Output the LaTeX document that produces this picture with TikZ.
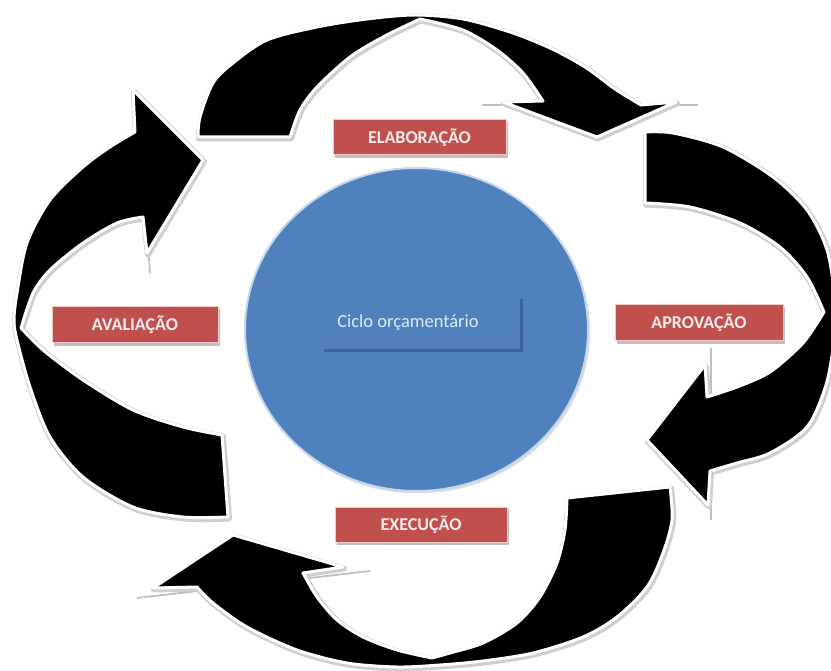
\documentclass[tikz,border=0pt]{standalone}
\usepackage{fontspec}
\newfontfamily\carlito{Carlito}
\definecolor{circblue}{RGB}{79,129,189}
\definecolor{circedge}{RGB}{196,214,236}
\definecolor{boxshade}{RGB}{58,100,160}
\definecolor{labred}{RGB}{192,80,77}
\definecolor{labedge}{RGB}{236,200,198}
\definecolor{labtext}{RGB}{250,236,236}
\definecolor{cictext}{RGB}{220,232,246}
\tikzset{
  shadowst/.style={draw=gray!38, fill=gray!38, line width=6pt, line join=round, shift={(1,1.5)}},
  arrowst/.style={fill=black, draw=white, line width=3pt, line join=round},
  baseline/.style={draw=gray!50, line width=1.8pt},
  labbox/.style={fill=labred, draw=labedge, line width=1pt, text=labtext,
     font=\carlito\bfseries\fontsize{18}{21}\selectfont, inner sep=0pt},
  labshadow/.style={fill=gray!50},
}
\newcommand\shapeTop[1]{\path[#1] (198,137) -- plot[smooth] coordinates {(198,137) (200,117) (213,83) (233,63) (267,40) (317,27) (367,19) (415,15) (463,19) (510,32) (550,48) (585,67) (615,89) (641,105)} -- (676,102) -- (597,137) -- (503,102) -- (543,101) -- plot[smooth] coordinates {(543,101) (523,73) (497,50) (463,30) (420,19)} -- plot[smooth] coordinates {(420,19) (383,37) (350,57) (317,87) (300,110) (290,137)} -- cycle;}
\newcommand\shapeRight[1]{\path[#1] (645,132) -- plot[smooth] coordinates {(645,132) (673,133) (723,147) (773,177) (807,210) (827,250) (835,300) (834,340) (826,385) (807,427) (770,453) (737,463) (710,471)} -- (708,505) -- (647,440) -- (705,365) -- plot[smooth] coordinates {(707,397) (737,387) (770,372) (803,343) (824,312)} -- plot[smooth] coordinates {(824,312) (807,277) (780,247) (740,223) (690,207) (645,203)} -- cycle;}
\newcommand\shapeBottom[1]{\path[#1] (567,498) -- (670,487) -- plot[smooth] coordinates {(670,487) (672,520) (663,553) (647,587) (617,617) (583,637) (533,653) (483,661) (440,665) (397,667) (347,663) (297,650) (247,627) (213,603) (197,587)} -- (153,588) -- (233,535) -- (343,567) -- plot[smooth] coordinates {(303,573) (317,597) (337,620) (363,637) (397,650) (432,658)} -- plot[smooth] coordinates {(432,658) (450,653) (483,643) (517,623) (540,597) (557,563) (565,530) (567,498)} -- cycle;}
\newcommand\shapeLeft[1]{\path[#1] (228,517) -- plot[smooth] coordinates {(228,517) (183,517) (133,507) (83,477) (50,437) (30,387) (17,340) (14,320) (17,293) (27,243) (50,200) (83,167) (110,147) (135,132)} -- (133,90) -- (203,160) -- (147,253) -- plot[smooth] coordinates {(143,217) (117,223) (83,243) (50,270) (33,293) (21,328)} -- plot[smooth] coordinates {(21,328) (43,350) (83,380) (133,410) (183,427) (222,435)} -- cycle;}
\begin{document}
\begin{tikzpicture}[x=1pt,y=-1pt]
\useasboundingbox (0,0) rectangle (831,671);
\fill[white] (0,0) rectangle (831,671);
\clip (0,0) rectangle (831,671);
% shadow lines along arrowhead bases
\draw[baseline] (482,105) -- (698,105);
\draw[baseline] (711,348) -- (711,520);
\draw[baseline] (137,598) -- (370,571);
\draw[baseline] (137,92) -- (150,273);
% arrows
\shapeTop{shadowst}
\shapeRight{shadowst}
\shapeBottom{shadowst}
\shapeLeft{shadowst}
\shapeTop{arrowst}
\shapeRight{arrowst}
\shapeBottom{arrowst}
\shapeLeft{arrowst}
% central circle
\fill[gray!25] (418,331.5) ellipse [x radius=172pt, y radius=162pt];
\draw[fill=circblue, draw=circedge, line width=2pt] (416.5,329.5) ellipse [x radius=171.5pt, y radius=161.5pt];
\fill[boxshade] (324,299) rectangle (523,352);
\fill[circblue] (322,297) rectangle (520,349);
\node[text=cictext, font=\carlito\fontsize{18.5}{22}\selectfont, inner sep=0pt] (ciclo) at (408,323) {Ciclo orçamentário};
% labels
\fill[labshadow] (335,122) rectangle (508,158);
\node[labbox, minimum width=173pt, minimum height=35pt] (elab) at (419.5,137.5) {ELABORAÇÃO};
\fill[labshadow] (54,309) rectangle (220,346);
\node[labbox, minimum width=166pt, minimum height=36pt] (aval) at (135,325) {AVALIAÇÃO};
\fill[labshadow] (617,307) rectangle (785,344);
\node[labbox, minimum width=168pt, minimum height=36pt] (aprov) at (699,323) {APROVAÇÃO};
\fill[labshadow] (337,509) rectangle (509,545);
\node[labbox, minimum width=172pt, minimum height=35pt] (exec) at (421,524.5) {EXECUÇÃO};
\end{tikzpicture}
\end{document}
